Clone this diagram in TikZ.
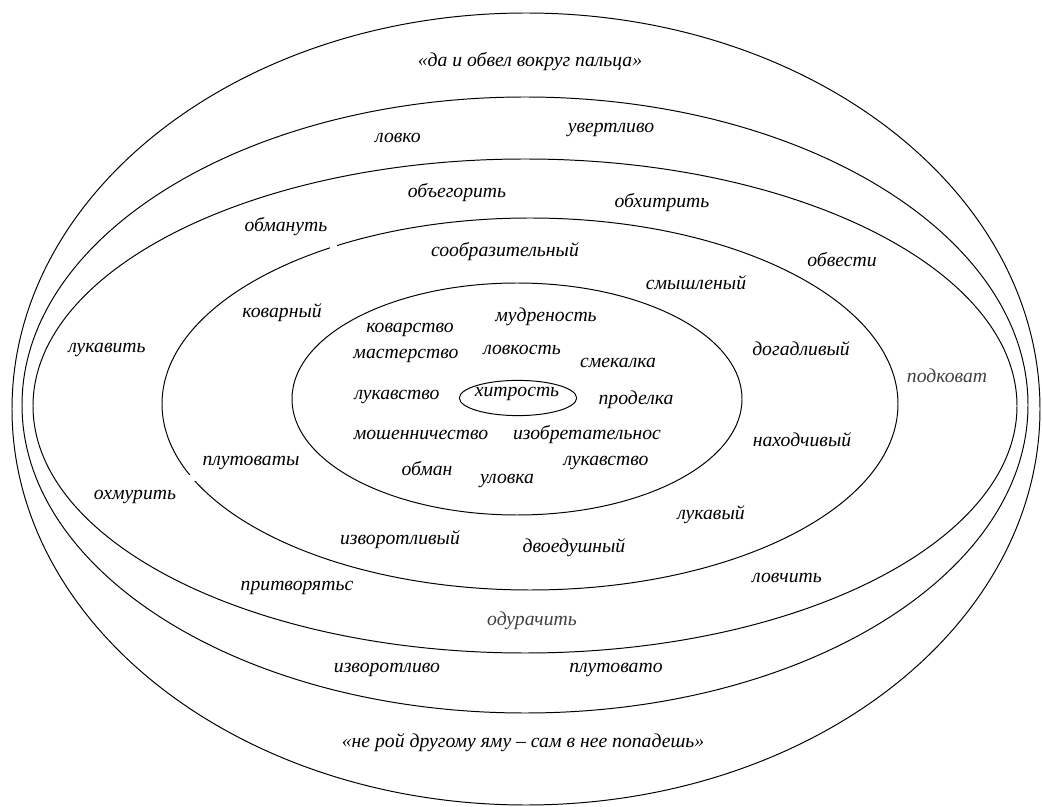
\documentclass[tikz,border=0pt]{standalone}
\usepackage{fontspec}
\setmainfont{Liberation Serif}
\usetikzlibrary{shapes.geometric}
\begin{document}
\begin{tikzpicture}[x=0.025cm, y=-0.025cm,
    every node/.style={font=\itshape\fontsize{14}{16}\selectfont, inner sep=1pt},
    ring/.style={line width=0.7pt},
    grayword/.style={text=darkgray}]
      \useasboundingbox (0,0) rectangle (1042,807);
      \draw[ring] (526,409) ellipse [x radius=514, y radius=396];
      \draw[ring] (525,405) ellipse [x radius=503, y radius=308];
      \draw[ring] (525,406) ellipse [x radius=492, y radius=247];
      \draw[ring] (530,404) ellipse [x radius=368, y radius=186];
      \draw[ring] (517,399) ellipse [x radius=225, y radius=116];
      \fill[white] (330,243) rectangle (337,252);
      \fill[white] (188,475) rectangle (198,481);

      \node[draw, ring, ellipse, minimum width=2.93cm, minimum height=0.88cm, inner sep=0pt]
        (hitrost) at (518,398) {};
      \node (hitrostText) at (517,394) {хитрость};

      \node (kovarstvo) at (410,330) {коварство};
      \node (mudrenost) at (546,317) {мудреность};
      \node (masterstvo) at (406,356) {мастерство};
      \node (lovkost) at (522,350) {ловкость};
      \node (smekalka) at (618,363) {смекалка};
      \node (lukavstvoL) at (397,397) {лукавство};
      \node (prodelka) at (636,400) {проделка};
      \node (moshennichestvo) at (421,435) {мошенничество};
      \node (izobretatelnos) at (587,435) {изобретательнос};
      \node (obman) at (427,469) {обман};
      \node (lukavstvoR) at (606,463) {лукавство};
      \node (ulovka) at (507,481) {уловка};

      \node (soobrazitelnyj) at (505,252) {сообразительный};
      \node (smyshlenyj) at (696,283) {смышленый};
      \node (kovarnyj) at (282,313) {коварный};
      \node (dogadlivyj) at (801,349) {догадливый};
      \node (nahodchivyj) at (802,440) {находчивый};
      \node (plutovaty) at (251,463) {плутоваты};
      \node (lukavyj) at (711,515) {лукавый};
      \node (izvorotlivyj) at (400,540) {изворотливый};
      \node (dvoedushnyj) at (574,548) {двоедушный};

      \node (obegorit) at (457,193) {объегорить};
      \node (obhitrit) at (662,203) {обхитрить};
      \node (obmanut) at (286,227) {обмануть};
      \node (obvesti) at (842,260) {обвести};
      \node (lukavit) at (107,350) {лукавить};
      \node[grayword] (podkovat) at (947,376) {подковат};
      \node (ohmurit) at (135,497) {охмурить};
      \node (pritvoryats) at (297,588) {притворятьс};
      \node (lovchit) at (787,578) {ловчить};
      \node[grayword] (odurachit) at (532,621) {одурачить};

      \node (lovko) at (398,138) {ловко};
      \node (uvertlivo) at (611,130) {увертливо};
      \node (izvorotlivo) at (387,670) {изворотливо};
      \node (plutovato) at (616,670) {плутовато};

      \node (obvel) at (530,62) {«да и обвел вокруг пальца»};
      \node (yama) at (523,743) {«не рой другому яму – сам в нее попадешь»};
    \end{tikzpicture}
\end{document}
